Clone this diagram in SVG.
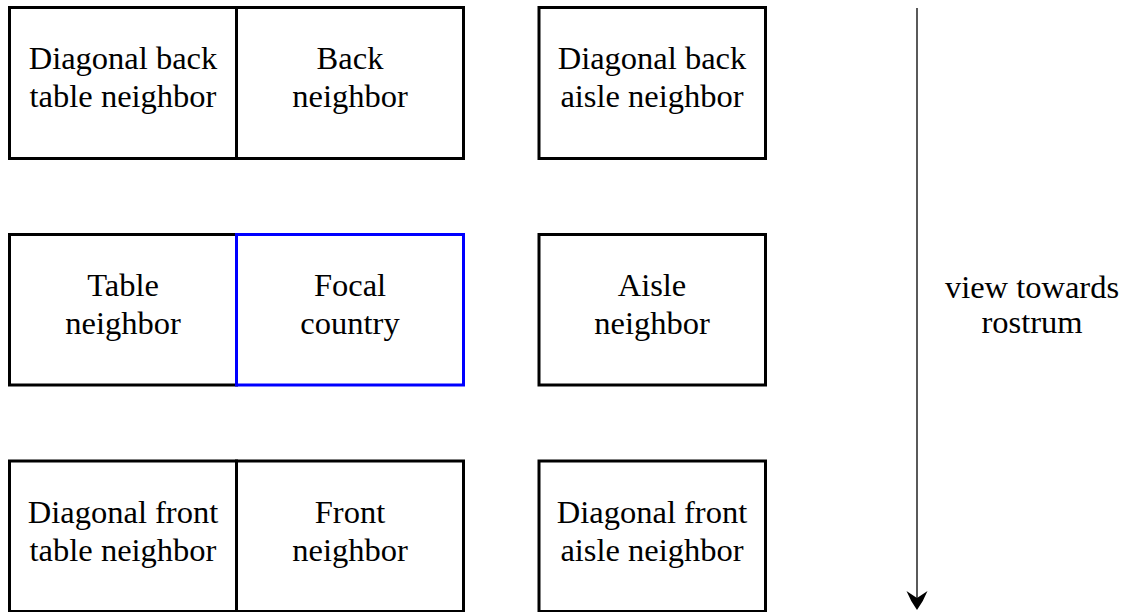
<svg xmlns="http://www.w3.org/2000/svg" width="1126" height="612" viewBox="0 0 1126 612">
<style>
.box{fill:none;stroke:#000;stroke-width:3}
.focal{fill:none;stroke:#0000ff;stroke-width:3}
text{font-family:"Liberation Serif","Times New Roman",serif;font-size:32.5px;fill:#000;text-anchor:middle}
.conn{stroke:#000;stroke-width:1.3;fill:none}
.head{fill:#000;stroke:none}
</style>
<g id="n-diag-back-table"><rect class="box" x="9.5" y="7.5" width="227" height="151"/><text x="123" y="69">Diagonal back</text><text x="123" y="107">table neighbor</text></g>
<g id="n-back"><rect class="box" x="236.5" y="7.5" width="227" height="151"/><text x="350" y="69">Back</text><text x="350" y="107">neighbor</text></g>
<g id="n-diag-back-aisle"><rect class="box" x="539" y="7.5" width="226.5" height="151"/><text x="652" y="69">Diagonal back</text><text x="652" y="107">aisle neighbor</text></g>
<g id="n-table"><rect class="box" x="9.5" y="234.5" width="227" height="150.5"/><text x="123" y="296">Table</text><text x="123" y="334">neighbor</text></g>
<g id="n-aisle"><rect class="box" x="539" y="234.5" width="226.5" height="150.5"/><text x="652" y="296">Aisle</text><text x="652" y="334">neighbor</text></g>
<g id="n-focal"><rect class="focal" x="236.5" y="234.5" width="227" height="150.5"/><text x="350" y="296">Focal</text><text x="350" y="334">country</text></g>
<g id="n-diag-front-table"><rect class="box" x="9.5" y="461" width="227" height="150.5"/><text x="123" y="523">Diagonal front</text><text x="123" y="561">table neighbor</text></g>
<g id="n-front"><rect class="box" x="236.5" y="461" width="227" height="150.5"/><text x="350" y="523">Front</text><text x="350" y="561">neighbor</text></g>
<g id="n-diag-front-aisle"><rect class="box" x="539" y="461" width="226.5" height="150.5"/><text x="652" y="523">Diagonal front</text><text x="652" y="561">aisle neighbor</text></g>
<g id="connectors"><line class="conn" x1="917" y1="8" x2="917" y2="598"/><path class="head" d="M917,610 Q910.5,601 906.5,591 L917,598 L927.5,591 Q923.5,601 917,610 Z"/></g>
<g id="label-view"><text x="1032" y="298">view towards</text><text x="1032" y="333">rostrum</text></g>
</svg>
